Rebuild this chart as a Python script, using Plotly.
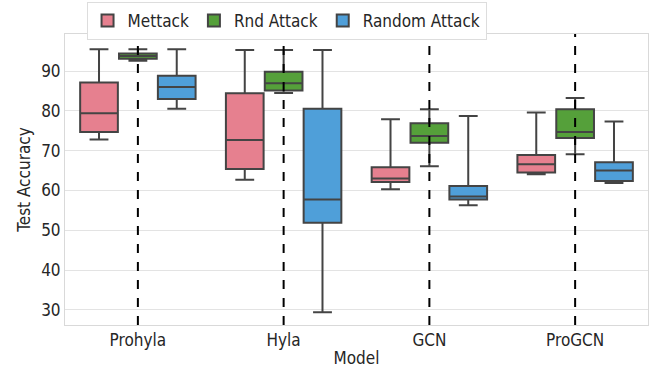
import plotly.graph_objects as go

models = ["Prohyla", "Hyla", "GCN", "ProGCN"]
series = ["Mettack", "Rnd Attack", "Random Attack"]
colors = ["#e6808f", "#55a03a", "#4f9fd9"]

# per series: lists over models
lower = {
    "Mettack":       [72.8, 62.7, 60.3, 64.1],
    "Rnd Attack":    [92.6, 84.5, 66.1, 69.1],
    "Random Attack": [80.5, 29.4, 56.3, 61.9],
}
q1 = {
    "Mettack":       [74.7, 65.4, 62.1, 64.5],
    "Rnd Attack":    [93.1, 85.1, 72.0, 73.2],
    "Random Attack": [83.0, 51.9, 57.7, 62.4],
}
median = {
    "Mettack":       [79.4, 72.7, 63.0, 66.6],
    "Rnd Attack":    [93.8, 86.9, 73.7, 74.7],
    "Random Attack": [86.0, 57.7, 58.5, 65.0],
}
q3 = {
    "Mettack":       [87.1, 84.4, 65.8, 68.9],
    "Rnd Attack":    [94.4, 89.8, 76.9, 80.4],
    "Random Attack": [88.8, 80.5, 61.1, 67.1],
}
upper = {
    "Mettack":       [95.5, 95.3, 77.9, 79.6],
    "Rnd Attack":    [95.5, 95.3, 80.4, 83.2],
    "Random Attack": [95.5, 95.3, 78.7, 77.3],
}

FONT = "DejaVu Sans Condensed, DejaVu Sans"

fig = go.Figure()
for s, c in zip(series, colors):
    fig.add_trace(go.Box(
        name=s,
        x=models,
        q1=q1[s], median=median[s], q3=q3[s],
        lowerfence=lower[s], upperfence=upper[s],
        fillcolor=c,
        line=dict(color="#444444", width=2),
        whiskerwidth=0.5,
        boxpoints=False,
        hoverinfo="skip",
    ))

for i, m in enumerate(models):
    fig.add_shape(type="line", xref="x", yref="paper", x0=i, x1=i, y0=0, y1=1,
                  line=dict(color="black", width=2, dash="dash"), layer="above")

fig.update_layout(
    width=649, height=368,
    margin=dict(l=65, r=1, t=34, b=43, autoexpand=False),
    boxmode="group", boxgap=0.2, boxgroupgap=0.03,
    plot_bgcolor="white", paper_bgcolor="white",
    font=dict(family=FONT, size=17, color="#262626"),
    legend=dict(orientation="h", x=0.38, xanchor="center",
                yref="container", y=0.995, yanchor="top",
                bordercolor="#dddddd", borderwidth=1, bgcolor="white",
                font=dict(size=17), itemwidth=30, tracegroupgap=0),
    showlegend=True,
)
fig.update_xaxes(
    title=dict(text="Model", standoff=4, font=dict(size=17)),
    range=[-0.5, 3.5], showgrid=False,
    showline=True, linecolor="#d9d9d9", linewidth=1, mirror=True,
    ticks="", tickfont=dict(size=17),
)
fig.update_yaxes(
    title=dict(text="Test Accuracy", standoff=6, font=dict(size=17)),
    range=[26.2, 99.3], tickvals=[30, 40, 50, 60, 70, 80, 90],
    showgrid=True, gridcolor="#e3e3e3", gridwidth=1,
    showline=True, linecolor="#d9d9d9", linewidth=1, mirror=True,
    zeroline=False, ticks="", tickfont=dict(size=17),
)

fig.write_html("out.html")
